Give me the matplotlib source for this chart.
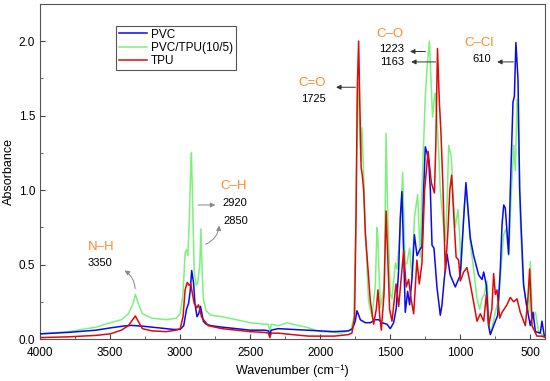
import matplotlib.pyplot as plt
from matplotlib.ticker import MultipleLocator


plt.rcParams['font.family'] = ['Liberation Sans', 'DejaVu Sans']

# FTIR spectra (wavenumber in cm-1, absorbance)
pvc_w = [4000, 3800, 3600, 3500, 3400, 3350, 3250, 3150, 3050, 3000, 2975, 2955, 2940, 2928, 2918,
         2905, 2895, 2880, 2868, 2855, 2845, 2835, 2815, 2780, 2700, 2600, 2500, 2400, 2370, 2360,
         2350, 2300, 2200, 2100, 2000, 1900, 1800, 1770, 1750, 1738, 1725, 1714, 1679, 1643, 1607,
         1583, 1560, 1524, 1500, 1476, 1457, 1440, 1429, 1417, 1405, 1393, 1376, 1362, 1345, 1328,
         1309, 1290, 1274, 1262, 1250, 1238, 1226, 1214, 1202, 1188, 1167, 1143, 1131, 1115, 1095,
         1072, 1036, 1000, 976, 960, 929, 905, 869, 845, 833, 814, 798, 786, 762, 733, 714, 702,
         690, 679, 665, 655, 643, 624, 614, 603, 588, 576, 565, 548, 524, 500, 481, 464, 429, 417,
         400, 390]
pvc_a = [0.035, 0.045, 0.06, 0.075, 0.088, 0.092, 0.085, 0.075, 0.065, 0.065, 0.09, 0.20, 0.24, 0.33, 0.46,
         0.38, 0.24, 0.15, 0.17, 0.22, 0.17, 0.12, 0.10, 0.09, 0.08, 0.07, 0.06, 0.06, 0.055, 0.03,
         0.06, 0.07, 0.065, 0.06, 0.055, 0.05, 0.055, 0.07, 0.12, 0.19, 0.16, 0.13, 0.11, 0.11, 0.13,
         0.13, 0.11, 0.10, 0.07, 0.11, 0.21, 0.47, 0.81, 0.99, 0.59, 0.18, 0.32, 0.23, 0.41, 0.70,
         0.56, 0.60, 0.62, 1.00, 1.29, 1.25, 1.20, 1.00, 0.63, 0.61, 0.35, 0.16, 0.23, 0.40, 0.57,
         0.43, 0.35, 0.43, 0.81, 1.05, 0.68, 0.56, 0.43, 0.40, 0.45, 0.36, 0.09, 0.03, 0.09, 0.16, 0.48, 0.77,
         0.90, 0.88, 0.70, 0.57, 1.00, 1.59, 1.63, 1.99, 1.74, 1.00, 0.74, 0.36, 0.21, 0.09, 0.18, 0.05, 0.04, 0.12,
         0.02, 0.02]

blend_w = [4000, 3800, 3600, 3500, 3420, 3370, 3340, 3320, 3300, 3270, 3200, 3100, 3030, 3000, 2980,
           2965, 2955, 2945, 2935, 2925, 2920, 2912, 2900, 2885, 2875, 2860, 2852, 2845, 2835, 2815,
           2780, 2700, 2600, 2500, 2400, 2370, 2360, 2350, 2300, 2236, 2200, 2100, 2000, 1900, 1850,
           1780, 1760, 1745, 1735, 1730, 1722, 1712, 1702, 1690, 1679, 1655, 1631, 1607, 1595, 1590,
           1571, 1543, 1530, 1520, 1500, 1488, 1464, 1452, 1429, 1412, 1400, 1393, 1381, 1362, 1345,
           1328, 1305, 1286, 1274, 1250, 1238, 1221, 1210, 1198, 1185, 1178, 1168, 1155, 1143, 1125,
           1107, 1095, 1083, 1064, 1048, 1036, 1017, 1005, 995, 972, 957, 929, 905, 881, 862, 845,
           829, 810, 791, 781, 750, 726, 714, 691, 674, 655, 640, 619, 607, 595, 583, 572, 553, 529,
           510, 500, 486, 464, 441, 417, 393]
blend_a = [0.035, 0.05, 0.08, 0.11, 0.13, 0.17, 0.23, 0.30, 0.24, 0.17, 0.14, 0.13, 0.14, 0.17, 0.30,
           0.58, 0.60, 0.56, 0.80, 1.15, 1.25, 0.95, 0.45, 0.36, 0.38, 0.50, 0.74, 0.50, 0.27, 0.19,
           0.16, 0.15, 0.13, 0.11, 0.10, 0.10, 0.04, 0.10, 0.09, 0.11, 0.10, 0.08, 0.05, 0.045, 0.04,
           0.06, 0.15, 0.80, 1.60, 1.72, 1.50, 1.20, 1.42, 1.10, 0.74, 0.25, 0.15, 0.36, 0.75, 0.70,
           0.21, 0.36, 1.38, 0.90, 0.30, 0.27, 0.51, 0.47, 0.72, 1.12, 0.70, 0.50, 0.51, 0.61, 0.41,
           0.81, 0.97, 0.55, 1.00, 1.63, 1.81, 2.00, 1.75, 1.49, 1.62, 1.65, 1.50, 1.27, 1.00, 0.80,
           0.66, 0.90, 1.30, 1.22, 0.90, 0.75, 0.87, 0.70, 0.47, 0.90, 1.00, 0.65, 0.47, 0.27, 0.20, 0.27,
           0.30, 0.39, 0.07, 0.04, 0.18, 0.27, 0.41, 0.70, 0.74, 0.56, 0.90, 1.30, 1.13, 1.61, 1.29, 0.81, 0.41, 0.23,
           0.18, 0.52, 0.14, 0.18, 0.05, 0.03, 0.02]

tpu_w = [4000, 3800, 3600, 3500, 3420, 3370, 3340, 3320, 3300, 3270, 3200, 3100, 3030, 3000, 2980,
         2965, 2950, 2935, 2925, 2912, 2900, 2881, 2870, 2860, 2848, 2833, 2800, 2700, 2600, 2500,
         2400, 2370, 2360, 2350, 2300, 2200, 2083, 2000, 1900, 1800, 1774, 1755, 1745, 1735, 1726,
         1718, 1708, 1700, 1690, 1678, 1643, 1619, 1600, 1588, 1575, 1564, 1545, 1530, 1520, 1505,
         1488, 1459, 1440, 1405, 1386, 1369, 1350, 1333, 1310, 1293, 1274, 1255, 1230, 1207, 1185,
         1175, 1163, 1150, 1138, 1125, 1107, 1090, 1075, 1062, 1045, 1030, 1012, 1000, 976, 953,
         935, 917, 881, 857, 833, 814, 798, 775, 762, 750, 738, 719, 702, 667, 643, 619, 595, 572,
         536, 519, 505, 488, 453, 417, 393]
tpu_a = [0.01, 0.015, 0.025, 0.035, 0.06, 0.09, 0.13, 0.155, 0.12, 0.07, 0.055, 0.05, 0.06, 0.07, 0.15,
         0.33, 0.38, 0.36, 0.37, 0.30, 0.24, 0.21, 0.23, 0.20, 0.15, 0.13, 0.09, 0.07, 0.06, 0.05,
         0.045, 0.04, 0.01, 0.04, 0.04, 0.03, 0.02, 0.02, 0.02, 0.03, 0.04, 0.15, 0.80, 1.70, 2.00,
         1.60, 1.15, 1.10, 1.00, 0.71, 0.26, 0.10, 0.20, 0.33, 0.15, 0.06, 0.30, 0.86, 0.60, 0.20,
         0.12, 0.37, 0.22, 0.59, 0.35, 0.40, 0.26, 0.17, 0.53, 0.37, 0.51, 1.00, 1.26, 1.05, 0.98,
         1.30, 1.95, 1.60, 1.38, 1.05, 0.45, 0.70, 1.00, 1.10, 0.80, 0.55, 0.53, 0.39, 0.45, 0.48,
         0.40, 0.31, 0.12, 0.17, 0.12, 0.30, 0.09, 0.20, 0.44, 0.30, 0.33, 0.14, 0.18, 0.23, 0.28, 0.25, 0.27, 0.18,
         0.09, 0.25, 0.47, 0.09, 0.02, 0.02, 0.01]

ORANGE = "#ff8a2a"

fig = plt.figure(figsize=(5.5, 3.81), dpi=100)
ax = fig.add_axes([0.073, 0.110, 0.918, 0.880])

ax.plot(blend_w, blend_a, color="#7ef07e", lw=1.1, label="PVC/TPU(10/5)", zorder=2)
ax.plot(pvc_w, pvc_a, color="#0a0af0", lw=1.1, label="PVC", zorder=3)
ax.plot(tpu_w, tpu_a, color="#dd0a0a", lw=1.1, label="TPU", zorder=4)

ax.set_xlim(4000, 395)
ax.set_ylim(0, 2.25)
ax.xaxis.set_major_locator(MultipleLocator(500))
ax.xaxis.set_minor_locator(MultipleLocator(250))
ax.yaxis.set_major_locator(MultipleLocator(0.5))
ax.yaxis.set_minor_locator(MultipleLocator(0.25))
ax.yaxis.set_major_formatter(plt.FuncFormatter(lambda v, p: f"{v:.1f}"))
ax.tick_params(which="both", direction="in", labelsize=8.5, color="#444444")
ax.tick_params(which="major", length=3.5)
ax.tick_params(which="minor", length=2)
ax.tick_params(axis="x", pad=6)
for s in ax.spines.values():
    s.set_color("#555555")

ax.set_xlabel("Wavenumber (cm⁻¹)", fontsize=9, labelpad=4)
ax.set_ylabel("Absorbance", fontsize=9, labelpad=3)

h, l = ax.get_legend_handles_labels()
order = [1, 0, 2]
leg = ax.legend([h[i] for i in order], [l[i] for i in order], loc="upper left",
                bbox_to_anchor=(0.15, 0.935), fontsize=8.5, fancybox=False, framealpha=1,
                handlelength=2.4, handletextpad=0.3, borderpad=0.25, labelspacing=0.1,
                borderaxespad=0)
leg.get_frame().set_edgecolor("#555555")
leg.get_frame().set_linewidth(0.8)

arrow_k = dict(arrowstyle="-|>", color="#333333", lw=0.7, mutation_scale=7)

# group labels
ax.text(3564, 0.62, "N–H", color=ORANGE, fontsize=9.5, ha="center", va="center")
ax.text(3571, 0.51, "3350", fontsize=8, ha="center", va="center")
ax.annotate("", xy=(3414, 0.47), xytext=(3321, 0.32),
            arrowprops=dict(arrow_k, color="#888888", connectionstyle="arc3,rad=0.3"))

ax.text(2621, 1.03, "C–H", color=ORANGE, fontsize=9.5, ha="center", va="center")
ax.text(2607, 0.91, "2920", fontsize=8, ha="center", va="center")
ax.text(2600, 0.79, "2850", fontsize=8, ha="center", va="center")
ax.annotate("", xy=(2730, 0.90), xytext=(2893, 0.90),
            arrowprops=dict(arrow_k, color="#888888"))
ax.annotate("", xy=(2721, 0.78), xytext=(2836, 0.63),
            arrowprops=dict(arrow_k, color="#888888", connectionstyle="arc3,rad=0.35"))

ax.text(2057, 1.72, "C=O", color=ORANGE, fontsize=9.5, ha="center", va="center")
ax.text(2050, 1.61, "1725", fontsize=8, ha="center", va="center")
ax.annotate("", xy=(1907, 1.69), xytext=(1729, 1.69), arrowprops=arrow_k)

ax.text(1500, 2.05, "C–O", color=ORANGE, fontsize=9.5, ha="center", va="center")
ax.text(1493, 1.95, "1223", fontsize=8, ha="center", va="center")
ax.text(1486, 1.86, "1163", fontsize=8, ha="center", va="center")
ax.annotate("", xy=(1379, 1.93), xytext=(1229, 1.93), arrowprops=arrow_k)
ax.annotate("", xy=(1371, 1.86), xytext=(1157, 1.86), arrowprops=arrow_k)

ax.text(864, 1.99, "C–Cl", color=ORANGE, fontsize=9.5, ha="center", va="center")
ax.text(850, 1.88, "610", fontsize=8, ha="center", va="center")
ax.annotate("", xy=(757, 1.86), xytext=(600, 1.86), arrowprops=arrow_k)

fig.savefig("out.png", dpi=100)
